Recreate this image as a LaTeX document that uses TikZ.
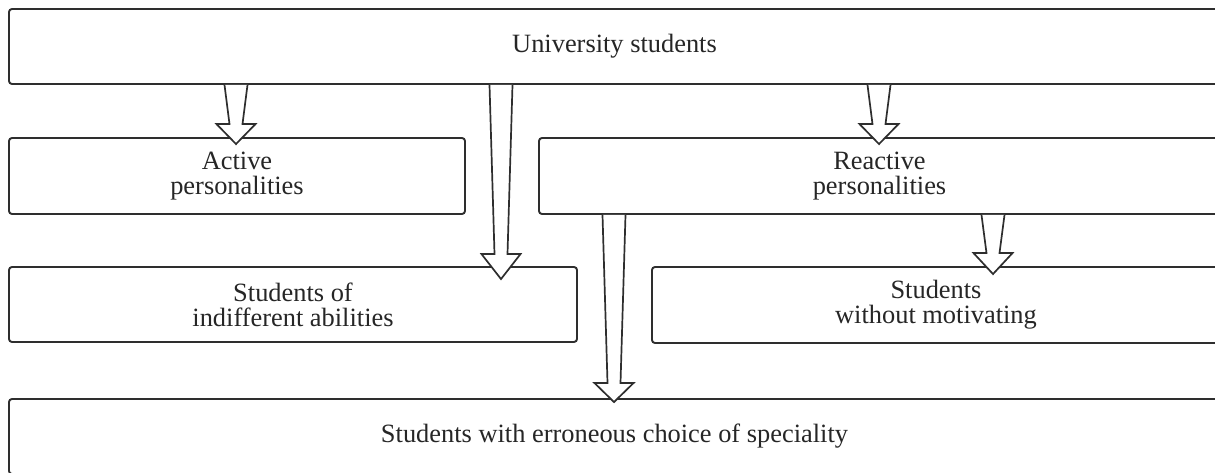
\documentclass[tikz,border=0pt]{standalone}
\usepackage{fontspec}
\setmainfont{Liberation Serif}
\usetikzlibrary{calc}
\tikzset{
  box/.style={draw=black!82, line width=1.9pt, rounded corners=3pt, fill=white,
    inner sep=0pt, align=center, text=black!85,
    font=\fontsize{26.4}{25}\selectfont},
  arr/.style={draw=black!82, line width=1.7pt, fill=white, line join=miter}
}
\newcommand\hollowarrow[5]{% from, to, x, overshoot, head height
  \path[arr] let \p1=(#1.south), \p2=(#2.north) in
    ({#3pt-11.5pt},{\y1}) -- ({#3pt-6.5pt},{\y2+#5pt-#4pt}) --
    ({#3pt-19.5pt},{\y2+#5pt-#4pt}) -- ({#3pt},{\y2-#4pt}) --
    ({#3pt+19.5pt},{\y2+#5pt-#4pt}) -- ({#3pt+6.5pt},{\y2+#5pt-#4pt}) --
    ({#3pt+11.5pt},{\y1});
}
\begin{document}
\begin{tikzpicture}[x=1pt,y=1pt]
\useasboundingbox (0,0) rectangle (1215,472);
\node[box, minimum width=1211pt, minimum height=75pt] (univ) at (614.5,425.5) {University students};
\node[box, minimum width=456pt, minimum height=76pt] (active) at (237,296) {Active\\personalities};
\node[box, minimum width=681pt, minimum height=76pt] (reactive) at (879.5,296) {Reactive\\personalities};
\node[box, minimum width=568pt, minimum height=75pt] (indiff) at (293,167.5) {Students of\\indifferent abilities};
\node[box, minimum width=568pt, minimum height=76pt] (motiv) at (936,167) {Students\\without motivating};
\node[box, minimum width=1211pt, minimum height=75pt] (err) at (614.5,35.5) {Students with erroneous choice of speciality};
\hollowarrow{univ}{active}{236}{7}{20}
\hollowarrow{univ}{indiff}{501}{13}{25}
\hollowarrow{univ}{reactive}{879}{7}{20}
\hollowarrow{reactive}{err}{614}{4}{19}
\hollowarrow{reactive}{motiv}{993}{8}{21}
\end{tikzpicture}
\end{document}
